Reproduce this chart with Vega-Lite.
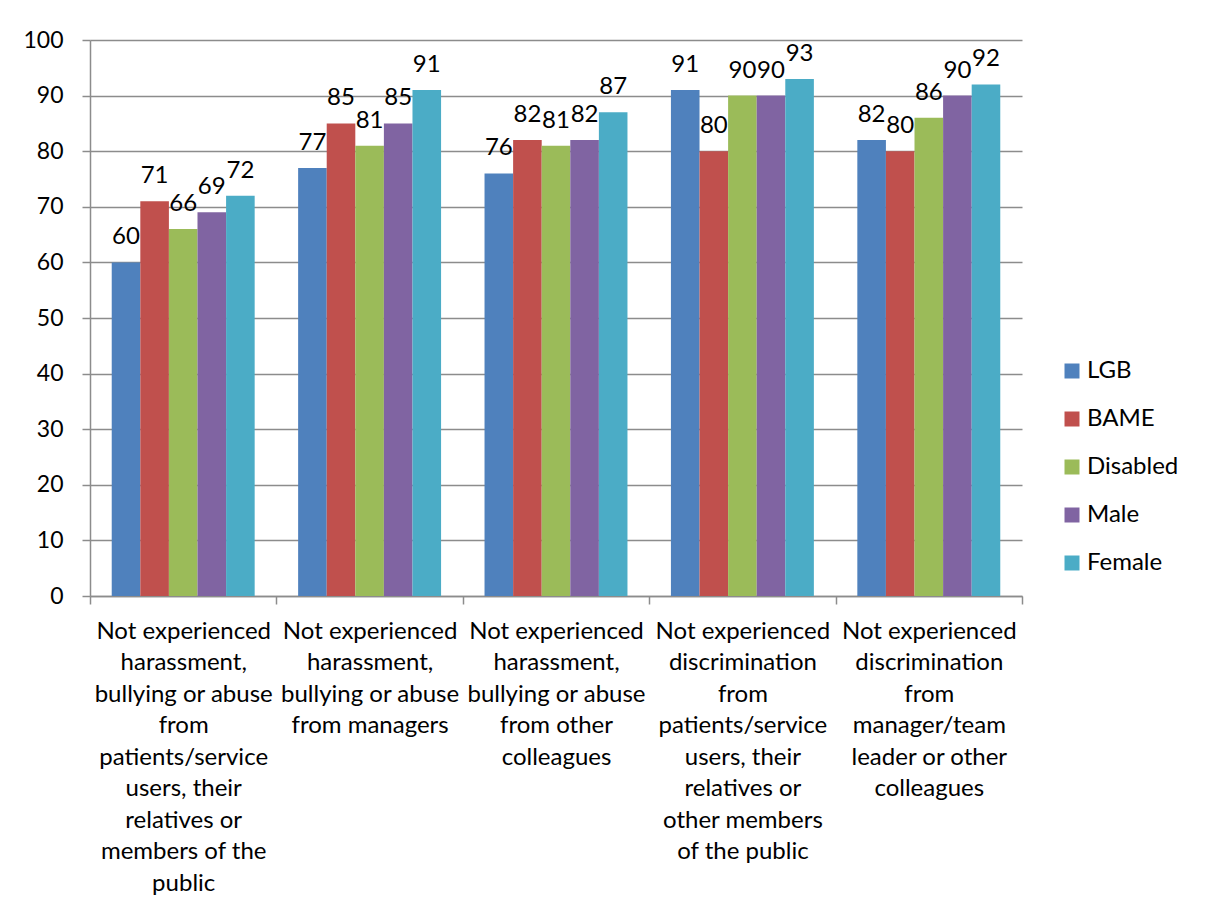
{
  "$schema": "https://vega.github.io/schema/vega-lite/v6.json",
  "width": 932,
  "height": 556,
  "autosize": {"type": "none"},
  "padding": {"left": 90, "top": 40, "right": 183, "bottom": 320},
  "background": "white",
  "config": {
    "font": "Lato",
    "view": {"stroke": null},
    "axis": {
      "labelFont": "Lato",
      "labelFontSize": 23,
      "labelColor": "#000000",
      "domainColor": "#8c8c8c",
      "tickColor": "#8c8c8c",
      "gridColor": "#8c8c8c",
      "domainWidth": 1.5,
      "tickWidth": 1.5,
      "gridWidth": 1.5,
      "tickSize": 8,
      "title": null
    }
  },
  "data": {
    "values": [
      {"category": "Not experienced|harassment,|bullying or abuse|from|patients/service|users, their|relatives or|members of the|public", "group": "LGB", "value": 60},
      {"category": "Not experienced|harassment,|bullying or abuse|from|patients/service|users, their|relatives or|members of the|public", "group": "BAME", "value": 71},
      {"category": "Not experienced|harassment,|bullying or abuse|from|patients/service|users, their|relatives or|members of the|public", "group": "Disabled", "value": 66},
      {"category": "Not experienced|harassment,|bullying or abuse|from|patients/service|users, their|relatives or|members of the|public", "group": "Male", "value": 69},
      {"category": "Not experienced|harassment,|bullying or abuse|from|patients/service|users, their|relatives or|members of the|public", "group": "Female", "value": 72},
      {"category": "Not experienced|harassment,|bullying or abuse|from managers", "group": "LGB", "value": 77},
      {"category": "Not experienced|harassment,|bullying or abuse|from managers", "group": "BAME", "value": 85},
      {"category": "Not experienced|harassment,|bullying or abuse|from managers", "group": "Disabled", "value": 81},
      {"category": "Not experienced|harassment,|bullying or abuse|from managers", "group": "Male", "value": 85},
      {"category": "Not experienced|harassment,|bullying or abuse|from managers", "group": "Female", "value": 91},
      {"category": "Not experienced|harassment,|bullying or abuse|from other|colleagues", "group": "LGB", "value": 76},
      {"category": "Not experienced|harassment,|bullying or abuse|from other|colleagues", "group": "BAME", "value": 82},
      {"category": "Not experienced|harassment,|bullying or abuse|from other|colleagues", "group": "Disabled", "value": 81},
      {"category": "Not experienced|harassment,|bullying or abuse|from other|colleagues", "group": "Male", "value": 82},
      {"category": "Not experienced|harassment,|bullying or abuse|from other|colleagues", "group": "Female", "value": 87},
      {"category": "Not experienced|discrimination|from|patients/service|users, their|relatives or|other members|of the public", "group": "LGB", "value": 91},
      {"category": "Not experienced|discrimination|from|patients/service|users, their|relatives or|other members|of the public", "group": "BAME", "value": 80},
      {"category": "Not experienced|discrimination|from|patients/service|users, their|relatives or|other members|of the public", "group": "Disabled", "value": 90},
      {"category": "Not experienced|discrimination|from|patients/service|users, their|relatives or|other members|of the public", "group": "Male", "value": 90},
      {"category": "Not experienced|discrimination|from|patients/service|users, their|relatives or|other members|of the public", "group": "Female", "value": 93},
      {"category": "Not experienced|discrimination|from|manager/team|leader or other|colleagues", "group": "LGB", "value": 82},
      {"category": "Not experienced|discrimination|from|manager/team|leader or other|colleagues", "group": "BAME", "value": 80},
      {"category": "Not experienced|discrimination|from|manager/team|leader or other|colleagues", "group": "Disabled", "value": 86},
      {"category": "Not experienced|discrimination|from|manager/team|leader or other|colleagues", "group": "Male", "value": 90},
      {"category": "Not experienced|discrimination|from|manager/team|leader or other|colleagues", "group": "Female", "value": 92}
    ]
  },
  "encoding": {
    "x": {
      "field": "category",
      "type": "nominal",
      "sort": null,
      "scale": {"paddingInner": 0, "paddingOuter": 0},
      "axis": {
        "labelAngle": 0,
        "labelExpr": "split(datum.label, '|')",
        "labelFontSize": 24,
        "labelLineHeight": 31.5,
        "labelPadding": 15,
        "labelLimit": 0,
        "tickBand": "extent",
        "grid": false
      }
    },
    "xOffset": {
      "field": "group",
      "sort": ["LGB", "BAME", "Disabled", "Male", "Female"],
      "scale": {"paddingInner": 0, "paddingOuter": 0.76}
    },
    "y": {
      "field": "value",
      "type": "quantitative",
      "scale": {"domain": [0, 100], "nice": false},
      "axis": {"values": [0, 10, 20, 30, 40, 50, 60, 70, 80, 90, 100], "labelPadding": 19, "grid": true}
    }
  },
  "layer": [
    {
      "mark": {"type": "bar"},
      "encoding": {
        "color": {
          "field": "group",
          "type": "nominal",
          "sort": ["LGB", "BAME", "Disabled", "Male", "Female"],
          "scale": {
            "domain": ["LGB", "BAME", "Disabled", "Male", "Female"],
            "range": ["#4F81BD", "#C0504D", "#9BBB59", "#8064A2", "#4BACC6"]
          },
          "legend": {
            "title": null,
            "orient": "none",
            "legendX": 970,
            "legendY": 319,
            "padding": 0,
            "symbolType": "square",
            "symbolSize": 225,
            "symbolStrokeWidth": 0,
            "labelFont": "Lato",
            "labelFontSize": 24,
            "labelColor": "#000000",
            "labelOffset": 3,
            "rowPadding": 24
          }
        }
      }
    },
    {
      "mark": {"type": "text", "baseline": "bottom", "dy": -13, "font": "Lato", "fontSize": 24, "color": "#000000"},
      "encoding": {"text": {"field": "value", "type": "quantitative"}}
    }
  ]
}
